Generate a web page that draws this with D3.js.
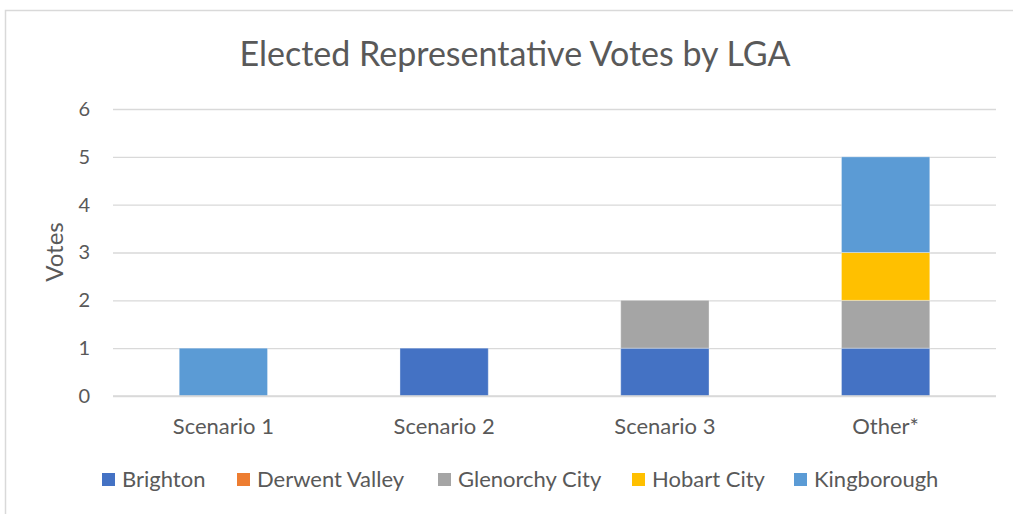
<!DOCTYPE html>
<html><head><meta charset="utf-8">
<script src="https://cdn.jsdelivr.net/npm/d3@7"></script>
<style>body{margin:0;background:#fff;} svg{display:block;}</style>
</head><body>
<svg id="c" width="1013" height="514"></svg>
<script>
const categories = ["Scenario 1", "Scenario 2", "Scenario 3", "Other*"];
const seriesNames = ["Brighton", "Derwent Valley", "Glenorchy City", "Hobart City", "Kingborough"];
const colors = ["#4472C4", "#ED7D31", "#A5A5A5", "#FFC000", "#5B9BD5"];
const brighton = [0, 1, 1, 1];
const derwentValley = [0, 0, 0, 0];
const glenorchyCity = [0, 0, 1, 1];
const hobartCity = [0, 0, 0, 1];
const kingborough = [1, 0, 0, 2];
const yTicks = [0, 1, 2, 3, 4, 5, 6];

const seriesValues = [brighton, derwentValley, glenorchyCity, hobartCity, kingborough];
const rows = categories.map((c, i) => {
  const r = {cat: c};
  seriesNames.forEach((s, j) => r[s] = seriesValues[j][i]);
  return r;
});
const font = "Lato, sans-serif";
const txt = "#595959";
const svg = d3.select("#c");
svg.append("rect").attr("x", 5.5).attr("y", 10.5).attr("width", 1100).attr("height", 600)
  .attr("fill", "#fff").attr("stroke", "#d9d9d9").attr("stroke-width", 1.5);

const x = d3.scaleBand().domain(categories).range([113, 996]).paddingInner(0.6).paddingOuter(0.3);
const y = d3.scaleLinear().domain([0, 6]).range([396, 109]);

// gridlines
const yAxis = d3.axisLeft(y).tickValues(yTicks).tickSize(-(996 - 113)).tickPadding(23).tickFormat(d3.format("d"));
const gy = svg.append("g").attr("transform", "translate(113,0)").call(yAxis);
gy.select(".domain").remove();
gy.selectAll(".tick line").attr("stroke", "#d9d9d9").attr("stroke-width", 1.3);
gy.selectAll(".tick text").attr("fill", txt).style("font-family", font).style("font-size", "20px");

const stack = d3.stack().keys(seriesNames);
const stacked = stack(rows);
svg.append("g").selectAll("g").data(stacked).join("g")
  .attr("fill", (d, i) => colors[i])
  .selectAll("rect").data(d => d.filter(p => p[1] - p[0] > 0)).join("rect")
  .attr("x", d => x(d.data.cat))
  .attr("width", x.bandwidth())
  .attr("y", d => y(d[1]))
  .attr("height", d => y(d[0]) - y(d[1]))
  .attr("stroke", "rgba(255,255,255,0.35)").attr("stroke-width", 1);

// baseline
svg.append("line").attr("x1", 113).attr("x2", 996).attr("y1", y(0)).attr("y2", y(0))
  .attr("stroke", "#d9d9d9").attr("stroke-width", 1.3);

// x axis labels
const xAxis = d3.axisBottom(x).tickSize(0).tickPadding(22);
const gx = svg.append("g").attr("transform", `translate(0,${y(0)})`).call(xAxis);
gx.select(".domain").remove();
gx.selectAll(".tick text").attr("fill", txt).style("font-family", font).style("font-size", "22px");

// title
svg.append("text").attr("x", 515).attr("y", 66).attr("text-anchor", "middle")
  .attr("fill", txt).style("font-family", font).style("font-size", "34px")
  .text("Elected Representative Votes by LGA");

// y axis title
svg.append("text").attr("transform", "translate(63,252) rotate(-90)").attr("text-anchor", "middle")
  .attr("fill", txt).style("font-family", font).style("font-size", "24px").text("Votes");

// legend
const legX = [102, 237, 438, 632, 794];
const lg = svg.append("g").selectAll("g").data(seriesNames).join("g")
  .attr("transform", (d, i) => `translate(${legX[i]},473)`);
lg.append("rect").attr("width", 13).attr("height", 13).attr("fill", (d, i) => colors[i]);
lg.append("text").attr("x", 20).attr("y", 14).attr("fill", txt)
  .style("font-family", font).style("font-size", "22px").text(d => d);
</script>
</body></html>
